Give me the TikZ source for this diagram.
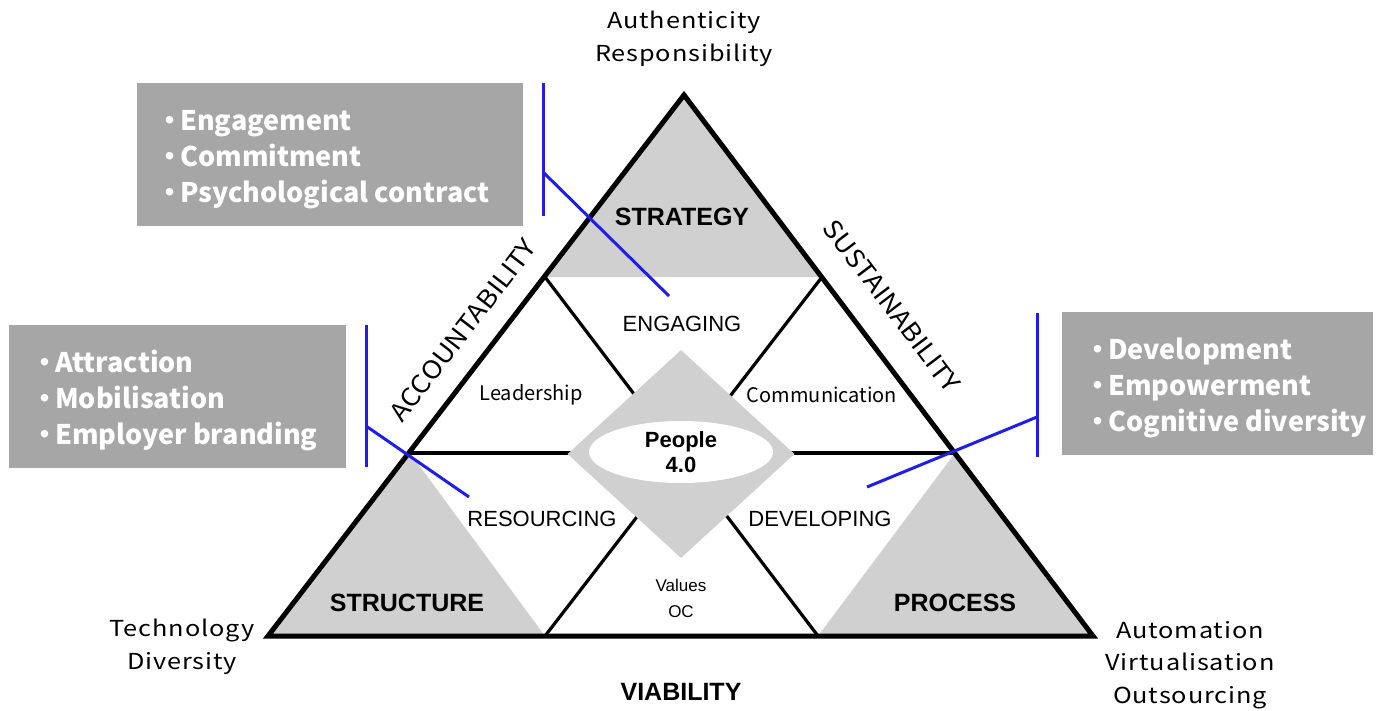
\documentclass[tikz,border=0pt]{standalone}
\usepackage{fontspec}
\setmainfont{Liberation Sans}
\newfontfamily\jp{Noto Sans CJK JP}
\newfontfamily\jpwide[FakeStretch=1.15,LetterSpace=4]{Noto Sans CJK JP}
\newfontfamily\jpside[FakeStretch=1.1]{Noto Sans CJK JP}
\usetikzlibrary{shapes.geometric}
\definecolor{boxgray}{HTML}{A6A6A6}
\definecolor{softgray}{HTML}{D0D0D0}
\definecolor{callblue}{RGB}{30,30,230}
\newcommand{\bul}{・\hspace{-3pt}}
\begin{document}
\begin{tikzpicture}[x=1pt,y=-1pt,
  outline/.style={line width=5pt, line join=miter},
  innerline/.style={line width=3.2pt},
  blueline/.style={draw=callblue, line width=3pt},
  box/.style={fill=boxgray, inner sep=0pt, anchor=north west},
  boxtext/.style={text=white, align=left, anchor=west, inner sep=0pt, font=\jp\bfseries\fontsize{27}{36}\selectfont},
  gothic/.style={font=\jp\fontsize{20}{24}\selectfont, inner sep=0pt},
  corner/.style={font=\jpwide\fontsize{22}{33.5}\selectfont, align=center, inner sep=0pt},
  strong/.style={font=\bfseries\fontsize{25}{30}\selectfont, inner sep=0pt},
  region/.style={font=\fontsize{22}{26}\selectfont, inner sep=0pt},
  side/.style={font=\jpside\fontsize{25}{30}\selectfont, inner sep=0pt},
]
\useasboundingbox (0,0) rectangle (1379,710);
% vertices
\coordinate (A) at (684,95);
\coordinate (B) at (268,636);
\coordinate (C) at (1093,636);
\coordinate (sL) at (545,277);
\coordinate (sR) at (822,277);
\coordinate (mL) at (410,453);
\coordinate (mR) at (955,453);
\coordinate (bM1) at (545,636);
\coordinate (bM2) at (818,636);
% shaded corner triangles
\fill[softgray] (A) -- (sL) -- (sR) -- cycle;
\fill[softgray] (mL) -- (B) -- (bM1) -- cycle;
\fill[softgray] (mR) -- (bM2) -- (C) -- cycle;
% inner lines
\draw[innerline] (mL) -- (mR);
\draw[innerline] (sL) -- (bM2);
\draw[innerline] (sR) -- (bM1);
% hub
\node[diamond, fill=softgray, minimum width=227pt, minimum height=208pt, inner sep=0pt] (hub) at (681,454) {};
\node[ellipse, fill=white, minimum width=184pt, minimum height=62pt, inner sep=0pt] (core) at (681,452) {};
\node[font=\bfseries\fontsize{22}{25}\selectfont, align=center, inner sep=0pt] (coretext) at (core.center) {People\\4.0};
% outer triangle
\draw[outline] (A) -- (B) -- (C) -- cycle;
% labels inside
\node[strong] (strategy) at (682,217) {STRATEGY};
\node[region] (engaging) at (682,324) {ENGAGING};
\node[gothic] (leadership) at (531,395) {Leadership};
\node[gothic] (communication) at (822,395) {Communication};
\node[region] (resourcing) at (542,519) {RESOURCING};
\node[region] (developing) at (820,519) {DEVELOPING};
\node[font=\fontsize{17}{26}\selectfont, align=center, inner sep=0pt] (values) at (681,598) {Values\\OC};
\node[strong] (structure) at (407,603) {STRUCTURE};
\node[strong] (process) at (955,603) {PROCESS};
\node[strong] (viability) at (681,692) {VIABILITY};
% side labels
\node[side, rotate=52.4] (accountability) at (463,330) {ACCOUNTABILITY};
\node[side, rotate=-52.9] (sustainability) at (892,306) {SUSTAINABILITY};
% corner labels
\node[corner] (top) at (684,39) {Authenticity\\Responsibility};
\node[corner] (left) at (182,647) {Technology\\Diversity};
\node[corner, font=\jpwide\fontsize{22}{32.5}\selectfont] (right) at (1190,665) {Automation\\Virtualisation\\Outsourcing};
% callout boxes
\node[box, minimum width=386pt, minimum height=143pt] (b1) at (137,83) {};
\node[boxtext] (t1) at ([xshift=19pt,yshift=-5pt]b1.west) {\bul Engagement\\\bul Commitment\\\bul Psychological contract};
\node[box, minimum width=337pt, minimum height=143pt] (b2) at (9,325) {};
\node[boxtext] (t2) at ([xshift=22pt,yshift=-4pt]b2.west) {\bul Attraction\\\bul Mobilisation\\\bul Employer branding};
\node[box, minimum width=311pt, minimum height=143pt] (b3) at (1062,312) {};
\node[boxtext] (t3) at ([xshift=22pt,yshift=-4pt]b3.west) {\bul Development\\\bul Empowerment\\\bul Cognitive diversity};
% blue callout brackets
\coordinate (k1a) at (543,83);
\coordinate (k1b) at (543,216);
\coordinate (k1c) at (544,173);
\coordinate (k1d) at (669,296);
\coordinate (k2a) at (366,325);
\coordinate (k2b) at (366,467);
\coordinate (k2c) at (366,426);
\coordinate (k2d) at (469,497);
\coordinate (k3a) at (1037,313);
\coordinate (k3b) at (1037,457);
\coordinate (k3c) at (1037,417);
\coordinate (k3d) at (867,487);
\draw[blueline] (k1a) -- (k1b);
\draw[blueline] (k1c) -- (k1d);
\draw[blueline] (k2a) -- (k2b);
\draw[blueline] (k2c) -- (k2d);
\draw[blueline] (k3a) -- (k3b);
\draw[blueline] (k3c) -- (k3d);
\end{tikzpicture}
\end{document}
